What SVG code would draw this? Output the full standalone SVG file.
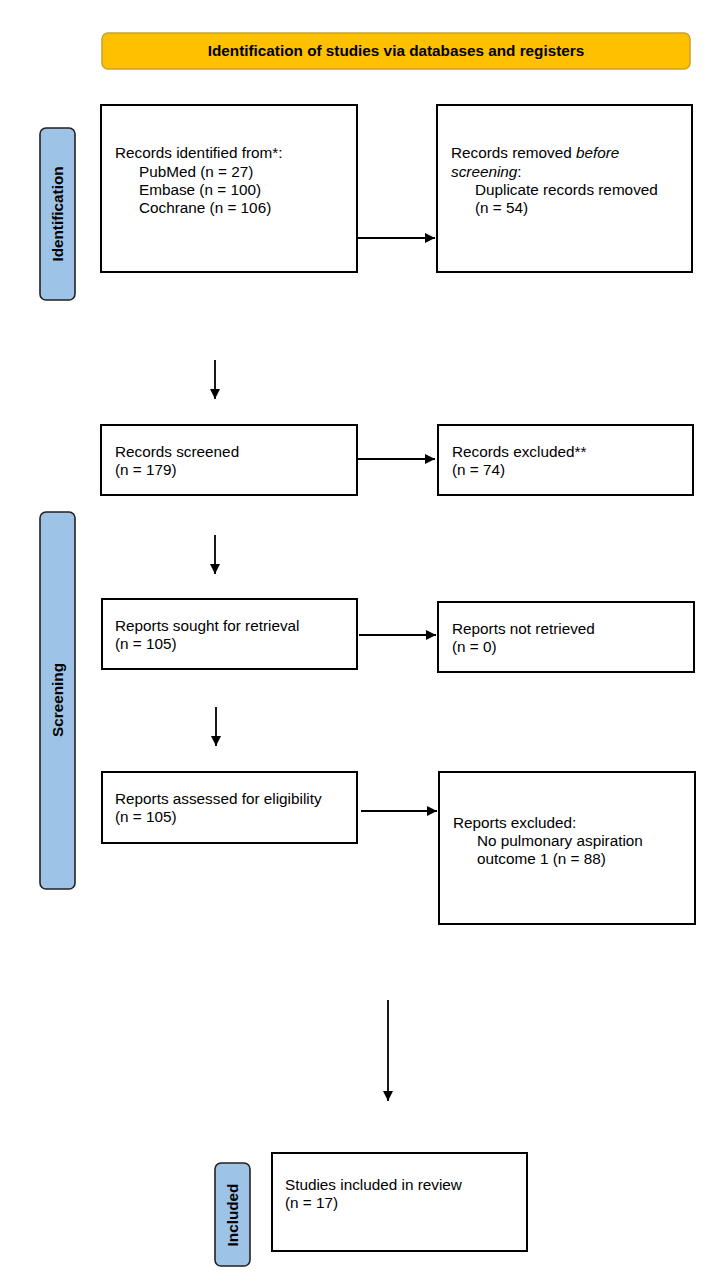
<svg xmlns="http://www.w3.org/2000/svg" width="721" height="1288" viewBox="0 0 721 1288">
<style>
.box{fill:#fff;stroke:#000;stroke-width:2}
.side{fill:#9DC3E6;stroke:#222;stroke-width:1.6}
.t{font-family:"Liberation Sans",Arial,sans-serif;font-size:15.3px;fill:#000}
.b{font-family:"Liberation Sans",Arial,sans-serif;font-size:15.3px;font-weight:bold;fill:#000}
.c{stroke:#000;stroke-width:1.8;fill:none}
</style>
<defs>
<marker id="ah" viewBox="0 0 10 10" refX="10" refY="5" markerWidth="5.6" markerHeight="5.6" orient="auto" markerUnits="strokeWidth">
<path d="M0,0 L10,5 L0,10 Z" fill="#000"/>
</marker>
</defs>
<rect width="721" height="1288" fill="#fff"/>
<g id="title">
<rect x="102" y="33" width="588" height="36" rx="6" fill="#FFC000" stroke="#C9A227" stroke-width="1.5"/>
<text class="b" x="396" y="56" text-anchor="middle">Identification of studies via databases and registers</text>
</g>
<g id="side-identification">
<rect class="side" x="40" y="128" width="35" height="172" rx="6"/>
<text class="b" transform="translate(63,214) rotate(-90)" text-anchor="middle">Identification</text>
</g>
<g id="side-screening">
<rect class="side" x="40" y="512" width="35" height="377" rx="6"/>
<text class="b" transform="translate(63,700) rotate(-90)" text-anchor="middle">Screening</text>
</g>
<g id="side-included">
<rect class="side" x="215" y="1163" width="35" height="103" rx="6"/>
<text class="b" transform="translate(238,1215) rotate(-90)" text-anchor="middle">Included</text>
</g>
<g id="identified">
<rect class="box" x="101" y="105" width="256" height="167"/>
<text class="t" x="115" y="158">Records identified from*:</text>
<text class="t" x="139" y="177">PubMed (n = 27)</text>
<text class="t" x="139" y="195">Embase (n = 100)</text>
<text class="t" x="139" y="213">Cochrane (n = 106)</text>
</g>
<g id="removed">
<rect class="box" x="437" y="105" width="255" height="167"/>
<text class="t" x="451" y="158">Records removed <tspan font-style="italic">before</tspan></text>
<text class="t" x="451" y="177"><tspan font-style="italic">screening</tspan>:</text>
<text class="t" x="475" y="195">Duplicate records removed</text>
<text class="t" x="475" y="213">(n = 54)</text>
</g>
<g id="screened">
<rect class="box" x="101" y="425" width="256" height="70"/>
<text class="t" x="115" y="457">Records screened</text>
<text class="t" x="115" y="475">(n = 179)</text>
</g>
<g id="excluded">
<rect class="box" x="438" y="425" width="255" height="70"/>
<text class="t" x="452" y="457">Records excluded**</text>
<text class="t" x="452" y="475">(n = 74)</text>
</g>
<g id="sought">
<rect class="box" x="102" y="599" width="255" height="70"/>
<text class="t" x="115" y="631">Reports sought for retrieval</text>
<text class="t" x="115" y="649">(n = 105)</text>
</g>
<g id="not-retrieved">
<rect class="box" x="438" y="602" width="256" height="70"/>
<text class="t" x="452" y="634">Reports not retrieved</text>
<text class="t" x="452" y="652">(n = 0)</text>
</g>
<g id="assessed">
<rect class="box" x="102" y="772" width="255" height="71"/>
<text class="t" x="115" y="804">Reports assessed for eligibility</text>
<text class="t" x="115" y="822">(n = 105)</text>
</g>
<g id="reports-excluded">
<rect class="box" x="439" y="772" width="256" height="152"/>
<text class="t" x="453" y="828">Reports excluded:</text>
<text class="t" x="477" y="846">No pulmonary aspiration</text>
<text class="t" x="477" y="864">outcome 1 (n = 88)</text>
</g>
<g id="included">
<rect class="box" x="272" y="1153" width="255" height="98"/>
<text class="t" x="285" y="1190">Studies included in review</text>
<text class="t" x="285" y="1208">(n = 17)</text>
</g>
<g id="connectors">
<line class="c" x1="357" y1="238" x2="435" y2="238" marker-end="url(#ah)"/>
<line class="c" x1="215" y1="360" x2="215" y2="399" marker-end="url(#ah)"/>
<line class="c" x1="357" y1="459" x2="435" y2="459" marker-end="url(#ah)"/>
<line class="c" x1="215" y1="535" x2="215" y2="574" marker-end="url(#ah)"/>
<line class="c" x1="359" y1="635" x2="436" y2="635" marker-end="url(#ah)"/>
<line class="c" x1="216" y1="707" x2="216" y2="746" marker-end="url(#ah)"/>
<line class="c" x1="361" y1="811" x2="437" y2="811" marker-end="url(#ah)"/>
<line class="c" x1="388" y1="1000" x2="388" y2="1101" marker-end="url(#ah)"/>
</g>
</svg>
